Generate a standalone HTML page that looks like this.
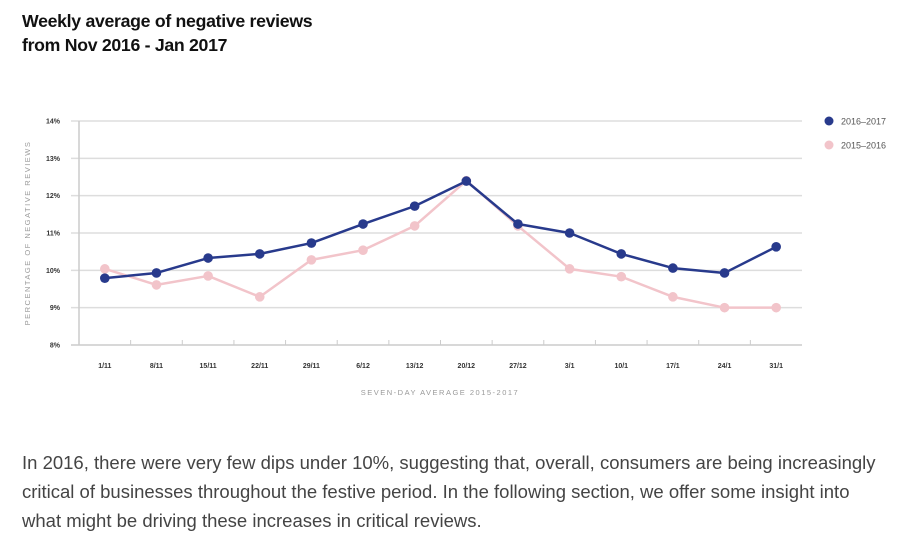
<!DOCTYPE html>
<html><head><meta charset="utf-8"><style>
body{margin:0;width:910px;height:542px;background:#fff;overflow:hidden;font-family:"Liberation Sans",sans-serif;}
#title{position:absolute;left:22px;top:9px;font-size:17.7px;font-weight:bold;color:#111;line-height:24px;letter-spacing:-0.3px}
#para{position:absolute;left:22px;top:448px;white-space:nowrap;font-size:18.5px;color:#444;line-height:29px}
svg{position:absolute;left:0;top:0}
</style></head><body>
<div id="title">Weekly average of negative reviews<br>from Nov 2016 - Jan 2017</div>
<svg id="chart" width="910" height="420"></svg>
<div id="para">In 2016, there were very few dips under 10%, suggesting that, overall, consumers are being increasingly<br>critical of businesses throughout the festive period. In the following section, we offer some insight into<br>what might be driving these increases in critical reviews.</div>
<script>
const categories=["1/11","8/11","15/11","22/11","29/11","6/12","13/12","20/12","27/12","3/1","10/1","17/1","24/1","31/1"];
const series2016=[9.79,9.93,10.33,10.44,10.73,11.24,11.72,12.39,11.24,11.0,10.44,10.06,9.93,10.63];
const series2015=[10.04,9.61,9.85,9.29,10.28,10.54,11.19,12.4,11.19,10.04,9.83,9.29,9.0,9.0];
const yTicks=[8,9,10,11,12,13,14];
const NS="http://www.w3.org/2000/svg";
const svg=document.getElementById('chart');
const x0=79,x1=802,y0=345,y1=121;
const band=(x1-x0)/categories.length;
const xs=i=>x0+band*(i+0.5);
const ys=v=>y0-(v-8)/(14-8)*(y0-y1);
function mk(t,a){const e=document.createElementNS(NS,t);for(const k in a)e.setAttribute(k,a[k]);svg.appendChild(e);return e;}
yTicks.forEach(v=>{
 const l=mk('line',{x1:x0-8,x2:x1,y1:ys(v),y2:ys(v),stroke:v===8?'#ccc':'#ddd','stroke-width':1.5});
 
 
 const t=mk('text',{x:60,y:ys(v)+2.5,'text-anchor':'end','font-size':7,'font-weight':'bold',fill:'#333'});
 t.textContent=v+'%';
 
 
});
const ax=mk('line',{x1:x0,x2:x0,y1:y1,y2:y0,stroke:'#ccc','stroke-width':1.5});


categories.forEach((c,i)=>{
 if(i>0){const tk=mk('line',{x1:x0+band*i,x2:x0+band*i,y1:y0-5,y2:y0,stroke:'#ccc','stroke-width':1});
 
 }
 const t=mk('text',{x:xs(i),y:368,'text-anchor':'middle','font-size':7,'font-weight':'bold',fill:'#333'});
 t.textContent=c;
 
 
});
const ytl=mk('text',{x:0,y:0,transform:'translate(30,233) rotate(-90)','text-anchor':'middle','font-size':7.5,fill:'#999','letter-spacing':'1.5'});
ytl.textContent='PERCENTAGE OF NEGATIVE REVIEWS';


const xtl=mk('text',{x:440,y:395,'text-anchor':'middle','font-size':7.5,fill:'#999','letter-spacing':'1.5'});
xtl.textContent='SEVEN-DAY AVERAGE 2015-2017';


function draw(data,color,name){
 const p=mk('polyline',{points:data.map((v,i)=>xs(i)+','+ys(v)).join(' '),fill:'none',stroke:color,'stroke-width':2.5,'stroke-linejoin':'round'});
 
 
 data.forEach((v,i)=>{const c=mk('circle',{cx:xs(i),cy:ys(v),r:4.8,fill:color});
 
 });
}
draw(series2015,'#f2c4ca','series-2015-2016');
draw(series2016,'#283a8c','series-2016-2017');
[['2016–2017','#283a8c',121],['2015–2016','#f2c4ca',145]].forEach(([lab,col,y])=>{
 const c=mk('circle',{cx:829,cy:y,r:4.5,fill:col});
 
 
 const t=mk('text',{x:841,y:y+3.5,'font-size':9,fill:'#555'});
 t.textContent=lab;
 
 
});
</script>
</body></html>
